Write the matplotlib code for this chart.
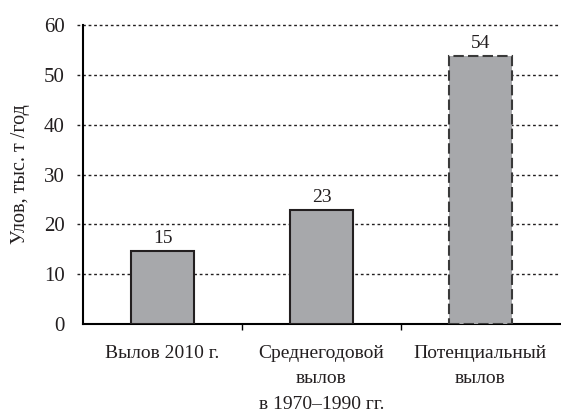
import numpy as np
from matplotlib import pyplot as plt

categories = ["Вылов 2010 г.", "Среднегодовой\nвылов\nв 1970–1990 гг.", "Потенциальный\nвылов"]
values = [14.7, 22.8, 53.8]
value_labels = ["15", "23", "54"]
y_ticks = [0, 10, 20, 30, 40, 50, 60]

plt.rcParams["font.family"] = ["Liberation Serif", "DejaVu Serif"]

fig = plt.figure(figsize=(5.61, 4.12), dpi=100)
ax = fig.add_axes([0.148, 0.2136, 0.85, 0.7254])

x = np.arange(len(categories))
bars = ax.bar(x, values, width=0.4, color="#a7a8ab", edgecolor="#231f20", linewidth=1.5, zorder=3)
bars[2].set_linestyle((0, (5, 2)))
bars[2].set_edgecolor("#3a3a3a")

for xi, v, lab in zip(x, values, value_labels):
    ax.text(xi, v + 0.8, lab, ha="center", va="bottom", fontsize=14, color="#231f20")

# dotted grid lines, reaching a little left of the axis
for t in y_ticks[1:]:
    ax.axhline(t, xmin=-0.012, xmax=1.0, color="#231f20", linestyle=(0, (2, 2)),
               linewidth=1.0, clip_on=False, zorder=1)

ax.set_xlim(-0.5, 2.5)
ax.set_ylim(0, 60)
ax.set_yticks(y_ticks)
ax.tick_params(axis="y", length=0, labelsize=15, pad=13, colors="#231f20")

ax.set_xticks([0.5, 1.5], minor=False)
ax.set_xticklabels([])
ax.tick_params(axis="x", which="major", length=4, direction="out", width=1.0)
ax.set_xticks(x, minor=True)
ax.set_xticklabels(categories, minor=True, fontsize=14, linespacing=1.65, va="top", color="#231f20")
ax.tick_params(axis="x", which="minor", length=0, pad=15)

ax.set_ylabel("Улов, тыс. т /год", fontsize=14.5, labelpad=10, color="#231f20")

for side in ["top", "right"]:
    ax.spines[side].set_visible(False)
ax.spines["left"].set_linewidth(1.5)
ax.spines["bottom"].set_linewidth(1.5)

fig.savefig("out.png", dpi=100)
